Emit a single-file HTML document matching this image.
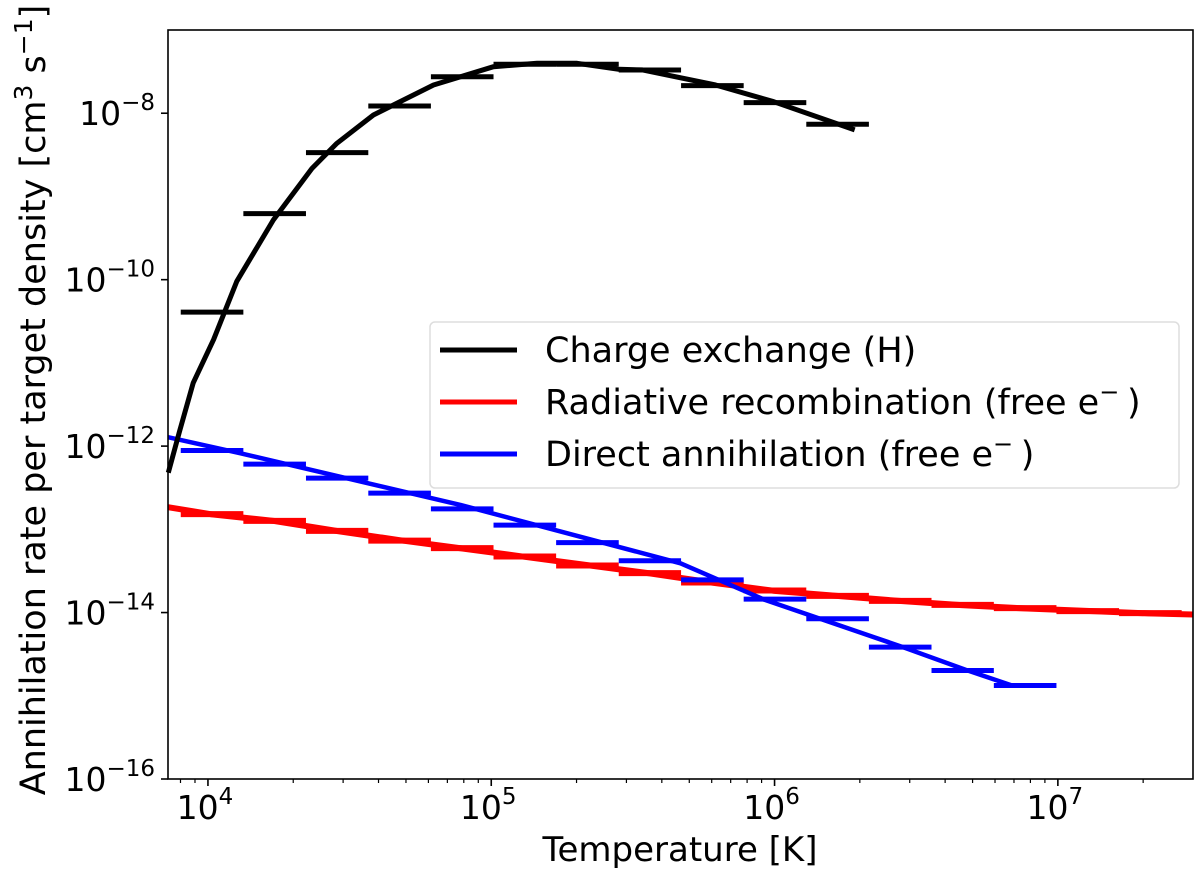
<!DOCTYPE html>
<html><head><meta charset="utf-8">
<style>
html,body{margin:0;padding:0;background:#fff;}
svg{display:block;font-family:"DejaVu Sans","Liberation Sans",sans-serif;}
</style></head>
<body>
<svg id="chart" width="1200" height="876" viewBox="0 0 1200 876" xmlns="http://www.w3.org/2000/svg">
  <g id="plot"></g>
  <rect x="168" y="30" width="1025" height="749" fill="none" stroke="#000" stroke-width="1.6"/>
  <g id="xticks"></g>
  <g id="yticks"></g>
  <text x="680" y="861" font-size="34" text-anchor="middle">Temperature [K]</text>
  <text transform="translate(45,400) rotate(-90)" font-size="35" text-anchor="middle">Annihilation rate per target density [cm<tspan font-size="25" dy="-13">3</tspan><tspan dy="13"> s</tspan><tspan font-size="25" dy="-13">−1</tspan><tspan dy="13">]</tspan></text>
  <g>
    <rect x="430" y="322" width="749" height="166" rx="5" fill="#fff" fill-opacity="0.85" stroke="#ddd" stroke-width="1.5"/>
    <line x1="440" y1="350" x2="517" y2="350" stroke="#000" stroke-width="5"/>
    <text x="545" y="362" font-size="35">Charge exchange (H)</text>
    <line x1="440" y1="402" x2="517" y2="402" stroke="#f00" stroke-width="5"/>
    <text x="545" y="414" font-size="35">Radiative recombination (free e<tspan font-size="24" dy="-14">− </tspan><tspan dy="14">)</tspan></text>
    <line x1="440" y1="454" x2="517" y2="454" stroke="#00f" stroke-width="5"/>
    <text x="545" y="466" font-size="35">Direct annihilation (free e<tspan font-size="24" dy="-14">− </tspan><tspan dy="14">)</tspan></text>
  </g>
</svg>
<script>
// ---- data (log10 values) ----
const binEdgesLogT = [3.904,4.125,4.346,4.566,4.787,5.008,5.229,5.450,5.670,5.891,6.112,6.333,6.554,6.774,6.995,7.216,7.437];
const chargeExBars = [-10.39,-9.207,-8.474,-7.913,-7.561,-7.412,-7.412,-7.480,-7.669,-7.873,-8.133];
const radRecBars = [-12.817,-12.898,-13.018,-13.135,-13.226,-13.327,-13.435,-13.526,-13.639,-13.735,-13.799,-13.859,-13.907,-13.947,-13.983,-14.007];
const directBars = [-12.053,-12.217,-12.385,-12.565,-12.754,-12.950,-13.159,-13.378,-13.607,-13.839,-14.075,-14.415,-14.696,-14.876];
const chargeExCurveLogT = [3.860,3.900,3.948,4.020,4.102,4.231,4.367,4.455,4.584,4.796,5.008,5.162,5.303,5.450,5.534,5.792,5.997,6.283];
const chargeExCurveLogR = [-12.32,-11.82,-11.24,-10.72,-10.02,-9.282,-8.664,-8.361,-8.021,-7.661,-7.441,-7.400,-7.400,-7.472,-7.480,-7.661,-7.861,-8.201];
const radRecCurveLogT = [3.859,4.015,4.235,4.456,4.677,4.898,5.118,5.339,5.560,5.780,6.000,6.220,6.440,6.660,6.880,7.100,7.320,7.477];
const radRecCurveLogR = [-12.734,-12.82,-12.90,-13.02,-13.13,-13.23,-13.33,-13.43,-13.53,-13.64,-13.74,-13.80,-13.86,-13.91,-13.95,-13.98,-14.01,-14.023];
const directCurveLogT = [3.859,4.113,4.891,5.668,5.965,6.453,6.674,6.838];
const directCurveLogR = [-11.893,-12.085,-12.706,-13.408,-13.847,-14.415,-14.688,-14.876];
const xTickExps = [4,5,6,7];
const yTickExps = [-8,-10,-12,-14,-16];

// ---- axes ----
const X0=168,X1=1193,Y0=30,Y1=779;
const LX0=3.859,LX1=7.477,LY0=-16,LY1=-7;
const sx=l=>X0+(l-LX0)/(LX1-LX0)*(X1-X0);
const sy=l=>Y1-(l-LY0)/(LY1-LY0)*(Y1-Y0);
const NS="http://www.w3.org/2000/svg";
function mk(tag,attrs,parent){const e=document.createElementNS(NS,tag);for(const k in attrs)e.setAttribute(k,attrs[k]);parent.appendChild(e);return e;}

const plot=document.getElementById('plot');
function drawSeries(name,color,lt,lr,bars,lw,bw){
  let d='';
  lt.forEach((t,i)=>{d+=(i?'L':'M')+sx(t).toFixed(1)+' '+sy(lr[i]).toFixed(1);});
  const p=mk('path',{d:d,fill:'none',stroke:color,'stroke-width':lw,'stroke-linejoin':'round'},plot);
  
  
  bars.forEach((v,i)=>{
    const l=mk('line',{x1:sx(binEdgesLogT[i]),x2:sx(binEdgesLogT[i+1]),y1:sy(v),y2:sy(v),stroke:color,'stroke-width':bw},plot);
    
    
  });
}
drawSeries('radiative-recombination','#f00',radRecCurveLogT,radRecCurveLogR,radRecBars,6,6);
drawSeries('direct-annihilation','#00f',directCurveLogT,directCurveLogR,directBars,4.5,5);
drawSeries('charge-exchange','#000',chargeExCurveLogT,chargeExCurveLogR,chargeExBars,5,5);

const xg=document.getElementById('xticks');
for(let e=3;e<=7;e++){for(let m=1;m<10;m++){const l=e+Math.log10(m);if(l<LX0||l>LX1)continue;
  const major=m===1;
  const t=mk('line',{x1:sx(l),x2:sx(l),y1:Y1,y2:Y1+(major?7:4),stroke:'#000','stroke-width':major?1.6:1.2},xg);
  
  
}}
xTickExps.forEach(e=>{
  const t=mk('text',{x:sx(e)-3,y:819,'font-size':33,'text-anchor':'middle'},xg);
  
  
  t.textContent='10';
  const s=mk('tspan',{'font-size':23,dy:-15},t);s.textContent=String(e);
});
const yg=document.getElementById('yticks');
yTickExps.forEach(e=>{
  const y=sy(e);
  const tk=mk('line',{x1:X0-7,x2:X0,y1:y,y2:y,stroke:'#000','stroke-width':1.6},yg);
  
  
  const t=mk('text',{x:155,y:y+12,'font-size':33,'text-anchor':'end'},yg);
  
  
  t.textContent='10';
  const s=mk('tspan',{'font-size':23,dy:-15},t);s.textContent='−'+String(-e);
});
</script>
</body></html>
